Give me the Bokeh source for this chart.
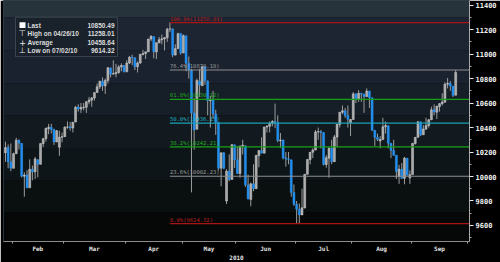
import numpy as np
import pandas as pd
from bokeh.plotting import figure
from bokeh.models import Range1d, FixedTicker, BoxAnnotation, Label, ColumnDataSource
from bokeh.embed import file_html
from bokeh.resources import INLINE
from bokeh.core.properties import value

# ---------------- data (DJIA daily, Jan 27 - Sep 24 2010) ----------------
start_date = "2010-01-27"
calendar_end = "2010-09-30"
holidays = ["2010-02-15", "2010-04-02", "2010-05-31", "2010-07-05", "2010-09-06"]

opens = [10194, 10236, 10120,
         10067, 10186, 10296, 10270, 10002, 10012, 9908, 10059, 10038, 10137, 10100, 10269, 10309, 10390, 10402, 10383, 10282, 10240, 10321,
         10325, 10403, 10406, 10396, 10445, 10567, 10551, 10564, 10566, 10611, 10624, 10642, 10686, 10733, 10779, 10740, 10785, 10887, 10836, 10841, 10850, 10895, 10907,
         10857, 10927, 10974, 10969, 10897, 10928, 10997, 11005, 11019, 11123, 11144, 11018, 11092, 11117, 11124, 11134, 11205, 11205, 10992, 11045, 11168,
         11009, 11150, 10925, 10868, 10519, 10386, 10780, 10742, 10897, 10780, 10620, 10626, 10510, 10443, 10068, 10193, 9800, 10044, 9976, 10259,
         10136, 10025, 10250, 10250, 9931, 9813, 9940, 9900, 10170, 10212, 10191, 10404, 10410, 10434, 10450, 10442, 10293, 10298, 10153, 10144, 10136, 9870,
         9773, 9732, 9686, 9743, 10018, 10138, 10198, 10216, 10363, 10366, 10359, 10098, 10150, 10230, 10121, 10322, 10425, 10525, 10537, 10498, 10440,
         10466, 10675, 10636, 10680, 10674, 10653, 10698, 10643, 10378, 10320, 10290, 10303, 10406, 10415, 10271, 10213, 10174, 10000, 10060, 9986, 10150, 9990,
         10016, 10270, 10320, 10447, 10341, 10387, 10416, 10463, 10545, 10526, 10572, 10595, 10608, 10754, 10761, 10738, 10664]
highs = [10285, 10262, 10270,
         10195, 10316, 10302, 10273, 10034, 10052, 10140, 10089, 10160, 10140, 10270, 10316, 10400, 10430, 10430, 10390, 10380, 10374, 10360,
         10410, 10450, 10445, 10445, 10577, 10590, 10600, 10600, 10615, 10650, 10650, 10690, 10760, 10780, 10810, 10800, 10895, 10890, 10950, 10920, 10910, 10925, 10910,
         10950, 10985, 10995, 10975, 10940, 11000, 11035, 11020, 11125, 11155, 11146, 11095, 11140, 11160, 11140, 11215, 11258.01, 11210, 11080, 11175, 11170,
         11160, 11150, 10980, 10880, 10640, 10800, 10880, 10900, 10900, 10785, 10660, 10700, 10545, 10443, 10200, 10200, 10060, 10180, 10265, 10260,
         10250, 10250, 10300, 10255, 10015, 9950, 10100, 10175, 10215, 10320, 10405, 10420, 10450, 10460, 10595, 10500, 10355, 10300, 10200, 10200, 10136, 9935,
         9800, 9780, 9900, 10020, 10140, 10200, 10230, 10380, 10400, 10380, 10360, 10175, 10240, 10300, 10340, 10430, 10525, 10580, 10560, 10580, 10470,
         10690, 10680, 10705, 10680, 10675, 10720, 10700, 10643, 10380, 10350, 10330, 10480, 10450, 10415, 10271, 10300, 10174, 10095, 10110, 10160, 10150, 10050,
         10275, 10320, 10450, 10447, 10420, 10480, 10470, 10570, 10590, 10580, 10600, 10680, 10770, 10805, 10780, 10738, 10870]
lows = [10120, 10067, 10043,
        10067, 10185, 10221, 9993, 9835, 9905, 9908, 9969, 9980, 9993, 10100, 10240, 10286, 10345, 10352, 10258, 10282, 10169, 10280,
        10325, 10390, 10375, 10360, 10445, 10530, 10520, 10540, 10520, 10590, 10570, 10620, 10685, 10715, 10700, 10675, 10760, 10810, 10835, 10810, 10840, 10860, 10850,
        10850, 10920, 10910, 10870, 10850, 10920, 10990, 10960, 11019, 11105, 10965, 10960, 11090, 11080, 11030, 11100, 11180, 10975, 10990, 11045, 10995,
        11009, 10860, 10800, 9870, 10220, 10386, 10650, 10740, 10750, 10500, 10400, 10470, 10340, 10050, 9920, 10060, 9775, 9960, 9976, 10070,
        10020, 9990, 10180, 9915, 9815, 9757, 9880, 9900, 10075, 10190, 10190, 10360, 10360, 10410, 10395, 10280, 10235, 10140, 10080, 10100, 9835, 9760,
        9620, 9614.32, 9686, 9740, 10018, 10100, 10150, 10216, 10300, 10230, 10090, 10072, 9990, 10100, 10120, 10240, 10400, 10510, 10480, 10400, 10330,
        10466, 10600, 10610, 10610, 10520, 10650, 10560, 10370, 10250, 10290, 10230, 10300, 10350, 10230, 10150, 10170, 9980, 9940, 9980, 9936, 10010, 9940,
        10016, 10260, 10320, 10330, 10340, 10387, 10400, 10463, 10500, 10470, 10530, 10580, 10600, 10720, 10700, 10650, 10664]
closes = [10236, 10120, 10067,
          10186, 10297, 10271, 10002, 10012, 9908, 10059, 10038, 10144, 10099, 10269, 10309, 10393, 10402, 10383, 10282, 10374, 10321, 10325,
          10403, 10405, 10396, 10444, 10566, 10552, 10564, 10567, 10611, 10625, 10642, 10685, 10733, 10779, 10741, 10785, 10888, 10836, 10841, 10850, 10895, 10907, 10857,
          10927, 10974, 10969, 10897, 10928, 10998, 11005, 11019, 11123, 11145, 11019, 11093, 11118, 11125, 11134, 11204, 11206, 10992, 11045, 11167, 11009,
          11151, 10926, 10868, 10520, 10380, 10785, 10748, 10897, 10782, 10620, 10626, 10510, 10444, 10068, 10193, 10067, 10043, 9975, 10259, 10137,
          10025, 10250, 10256, 9932, 9816, 9940, 9899, 10173, 10212, 10191, 10405, 10410, 10434, 10450, 10442, 10294, 10298, 10152, 10144, 10138, 9870, 9774,
          9732, 9686, 9744, 10018, 10139, 10198, 10216, 10364, 10367, 10359, 10098, 10154, 10230, 10121, 10323, 10425, 10525, 10537, 10498, 10468, 10466,
          10675, 10636, 10680, 10675, 10653, 10698, 10644, 10379, 10320, 10303, 10302, 10406, 10416, 10271, 10213, 10174, 10040, 10060, 9985, 10150, 10010, 10015,
          10270, 10320, 10448, 10341, 10388, 10416, 10463, 10545, 10527, 10573, 10595, 10608, 10754, 10761, 10739, 10663, 10850.49]

legend_names = ["Last", "High on 04/26/10", "Average", "Low on 07/02/10"]
legend_values = ["10850.49", "11258.01", "10458.64", "9614.32"]

fib_pcts = [100.0, 76.4, 61.8, 50.0, 38.2, 23.6, 0.0]
fib_values = [11258.01, 10870.10, 10630.12, 10436.17, 10242.21, 10002.23, 9614.32]
fib_colors = ["#a81414", "#8e8e8e", "#16a016", "#1aa0b4", "#16a016", "#8e8e8e", "#a81414"]
fib_text_colors = ["#b81c1c", "#9a9a9a", "#1fae1f", "#20aec2", "#1fae1f", "#9a9a9a", "#b81c1c"]

month_labels = ["Feb", "Mar", "Apr", "May", "Jun", "Jul", "Aug", "Sep"]
y_ticks = [9600, 9800, 10000, 10200, 10400, 10600, 10800, 11000, 11200, 11400]
y_minor = [9500, 9700, 9900, 10100, 10300, 10500, 10700, 10900, 11100, 11300]
year_label = "2010"

# ---------------- trading-day calendar ----------------
cal = pd.bdate_range(start_date, calendar_end)
cal = cal[~cal.isin(pd.to_datetime(holidays))]
n = len(opens)
xs = np.arange(n)

# layout geometry (pixels)
W, H = 500, 262
FL, FR, FT, FB = 3, 469, 0, 245
ppd = 2.696
feb_idx = int(np.where(cal.month == 2)[0][0])
feb_px = 11.7
x_left = feb_idx - 0.5 - (feb_px - FL) / ppd
x_right = x_left + (FR - FL) / ppd
y_top, y_bot = 11438.0, 9469.0


def px2x(px):
    return x_left + (px - FL) / ppd


def px2y(py):
    return y_top - (py - FT) * (y_top - y_bot) / (FB - FT)


# month boundaries/centres
months = cal.month.values
bounds = [i - 0.5 for i in range(1, len(cal)) if months[i] != months[i - 1]] + [len(cal) - 0.5]
centers = [(bounds[j] + bounds[j + 1]) / 2 for j in range(len(bounds) - 1)]

p = figure(width=W, height=H, output_backend="svg", toolbar_location=None,
           x_range=Range1d(x_left, x_right), y_range=Range1d(y_bot, y_top),
           y_axis_location="right",
           min_border_left=FL, min_border_right=W - FR, min_border_top=FT, min_border_bottom=H - FB)
p.grid.visible = False
p.background_fill_color = "#050707"
p.border_fill_color = "#000000"
p.outline_line_color = "#34404a"

# background bands (vertical gradient)
band_px = [0, 17, 51, 84, 117, 150, 183, 215, 245]
band_cols = ["#27333b", "#1d2533", "#1a222f", "#161e27", "#121a1f", "#0e1518", "#0a0f10", "#060808"]
for j, c in enumerate(band_cols):
    p.add_layout(BoxAnnotation(top=px2y(band_px[j]), bottom=px2y(band_px[j + 1]),
                               fill_color=c, fill_alpha=1.0, line_color=None, level="underlay"))

# candles
o = np.array(opens, float); h = np.array(highs, float); l = np.array(lows, float); c = np.array(closes, float)
up = c >= o
src = ColumnDataSource(dict(x=xs, h=h, l=l, top=np.maximum(o, c), bot=np.minimum(o, c),
                            fill=np.where(up, "#a8a8a8", "#1f8ef0"),
                            line=np.where(up, "#d2d2d2", "#2a96f5")))
p.segment(x0="x", y0="h", x1="x", y1="l", source=src, line_color="#9c9c9c", line_width=1)
p.vbar(x="x", width=0.72, top="top", bottom="bot", source=src,
       fill_color="fill", line_color="line", line_width=0.5)

# fibonacci retracement
k_high = int(np.argmax(h))
fsrc = ColumnDataSource(dict(x0=[k_high] * len(fib_values), x1=[x_right] * len(fib_values), y=fib_values,
                             col=fib_colors, tcol=fib_text_colors,
                             txt=[f"{pc:.1f}%({v:.2f})" for pc, v in zip(fib_pcts, fib_values)]))
p.segment(x0="x0", y0="y", x1="x1", y1="y", source=fsrc, line_color="col", line_width=1.2)
p.text(x="x0", y="y", text="txt", source=fsrc, text_color="tcol", text_font=value("DejaVu Sans Mono"),
       text_font_size="5.5px", text_baseline="bottom", y_offset=-1)

# legend box
p.add_layout(BoxAnnotation(left=px2x(15), right=px2x(117), top=px2y(17), bottom=px2y(57),
                           fill_color="#19212b", fill_alpha=0.95, line_color="#8a969c", line_width=1))
p.add_layout(BoxAnnotation(left=px2x(19), right=px2x(25), top=px2y(22), bottom=px2y(28),
                           fill_color="#ffffff", fill_alpha=1.0, line_color=None))
icons = ["", "\u22a4", "+", "\u22a5"]
row_px = [25, 33.7, 42.3, 50.7]
for name, val, icon, ry in zip(legend_names, legend_values, icons, row_px):
    if icon:
        p.add_layout(Label(x=px2x(22), y=px2y(ry), text=icon, text_align="center", text_baseline="middle",
                           text_color="#e8e8e8", text_font="DejaVu Sans", text_font_size="8px"))
    p.add_layout(Label(x=px2x(27), y=px2y(ry), text=name, text_baseline="middle",
                       text_color="#dcdcdc", text_font="Liberation Sans", text_font_style="bold",
                       text_font_size="6.5px"))
    p.add_layout(Label(x=px2x(114), y=px2y(ry), text=val, text_align="right", text_baseline="middle",
                       text_color="#dcdcdc", text_font="Liberation Sans", text_font_style="bold",
                       text_font_size="6.5px"))

# axes
xa = p.xaxis[0]
xa.ticker = FixedTicker(ticks=centers, minor_ticks=bounds)
xa.major_label_overrides = {float(cx): lab for cx, lab in zip(centers, month_labels)}
xa.major_tick_line_color = None
xa.major_tick_out = 0
xa.major_tick_in = 0
xa.minor_tick_line_color = "#a0a0a0"
xa.minor_tick_out = 2
xa.minor_tick_in = 0
xa.axis_line_color = "#8c8c8c"
xa.major_label_standoff = 1
xa.major_label_text_color = "#e0e0e0"
xa.major_label_text_font = "DejaVu Sans Mono"
xa.major_label_text_font_style = "bold"
xa.major_label_text_font_size = "6px"
xa.axis_label = year_label
xa.axis_label_standoff = 0
xa.axis_label_text_color = "#e0e0e0"
xa.axis_label_text_font = "DejaVu Sans Mono"
xa.axis_label_text_font_style = "bold"
xa.axis_label_text_font_size = "6px"

ya = p.yaxis[0]
ya.ticker = FixedTicker(ticks=y_ticks, minor_ticks=y_minor)
ya.major_label_overrides = {t: str(t) for t in y_ticks}
ya.axis_line_color = "#a8a8a8"
ya.major_tick_line_color = "#e8e8e8"
ya.major_tick_out = 4
ya.major_tick_in = 0
ya.minor_tick_line_color = "#a8a8a8"
ya.minor_tick_out = 2
ya.minor_tick_in = 0
ya.major_label_standoff = 2
ya.major_label_text_color = "#f0f0f0"
ya.major_label_text_font = "DejaVu Sans Mono"
ya.major_label_text_font_style = "bold"
ya.major_label_text_font_size = "7px"

# last price marker (kept inside the 500px window)
p.add_layout(Label(x=x_right, y=closes[-1], x_offset=2, text=legend_values[0], text_baseline="middle",
                   text_color="#000000", background_fill_color="#ffffff", background_fill_alpha=1.0,
                   text_font="DejaVu Sans Mono", text_font_style="bold", text_font_size="5.5px"))

open("out.html", "w").write(file_html(p, INLINE))
